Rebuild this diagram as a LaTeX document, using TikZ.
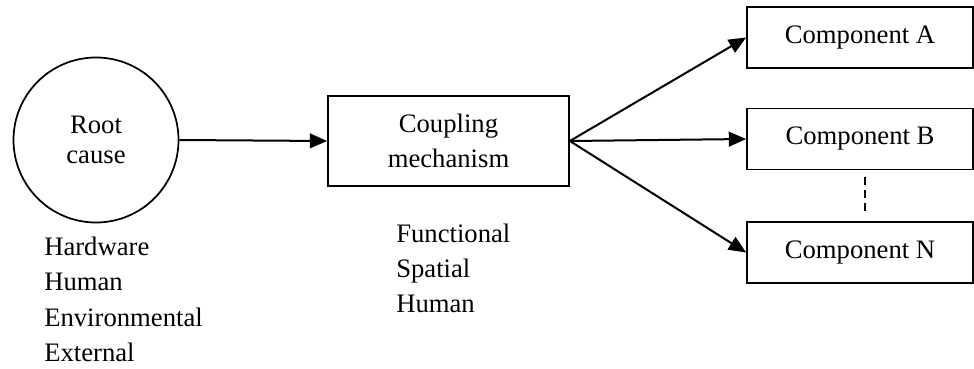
\documentclass[tikz,border=0pt]{standalone}
\usepackage{fontspec}
\setmainfont{Liberation Serif}
\usetikzlibrary{arrows.meta,calc}
\begin{document}
\begin{tikzpicture}[x=0.75pt,y=-0.75pt,
  lbl/.style={font=\fontsize{20pt}{22.5pt}\selectfont},
  box/.style={draw,line width=1.3pt,rectangle,inner sep=0pt,
    font=\fontsize{20pt}{26.25pt}\selectfont,align=center},
  item/.style={anchor=base west,inner sep=0pt,font=\fontsize{20pt}{22pt}\selectfont},
  link/.style={line width=1.5pt,-{Triangle[length=13pt,width=11pt]}}]
  \useasboundingbox (0,0) rectangle (974,368);

  % source of the failure
  \node[draw,circle,line width=1.3pt,minimum size=165*0.75pt,inner sep=0pt,
    align=center,lbl] (root) at (96,140) {Root\\cause};

  % coupling stage
  \node[box,minimum width=241*0.75pt,minimum height=90*0.75pt] (coup) at (448.5,141)
    {Coupling\\mechanism};

  % affected components
  \node[box,minimum width=226*0.75pt,minimum height=61*0.75pt] (ca) at (860,37.5) {Component A};
  \node[box,minimum width=226*0.75pt,minimum height=61*0.75pt] (cb) at (860,139) {Component B};
  \node[box,minimum width=226*0.75pt,minimum height=61*0.75pt] (cn) at (860,252.5) {Component N};

  % cause categories
  \node[item] (h1) at (44,255) {Hardware};
  \node[item] (h2) at (44,290.5) {Human};
  \node[item] (h3) at (44,326) {Environmental};
  \node[item] (h4) at (44,361.5) {External};

  % coupling categories
  \node[item] (k1) at (396,242) {Functional};
  \node[item] (k2) at (396,277) {Spatial};
  \node[item] (k3) at (396,312) {Human};

  % connectors
  \draw[link] (root.east) -- (coup.west);
  \draw[link] (coup.east) -- (ca.west);
  \draw[link] (coup.east) -- (cb.west);
  \draw[link] (coup.east) -- (cn.west);
  \draw[line width=1pt,dash pattern=on 6pt off 3.5pt]
    ($(cb.south)+(5,7)$) coordinate (d1) -- ($(cn.north)+(5,-10)$) coordinate (d2);
\end{tikzpicture}
\end{document}
